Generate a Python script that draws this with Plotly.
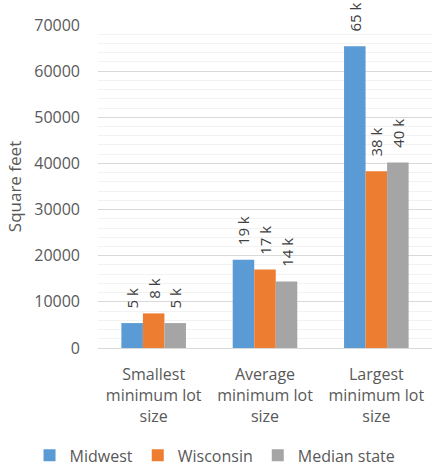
import plotly.graph_objects as go

categories = ["Smallest<br>minimum lot<br>size", "Average<br>minimum lot<br>size", "Largest<br>minimum lot<br>size"]
series_names = ["Midwest", "Wisconsin", "Median state"]
midwest = [5400, 19100, 65400]
wisconsin = [7500, 17000, 38300]
median_state = [5400, 14400, 40200]
series_colors = ["#5B9BD5", "#ED7D31", "#A5A5A5"]

FONT = "Open Sans"
PAD = "\u00a0\u00a0\u00a0"

fig = go.Figure()
for name, vals, col in zip(series_names, [midwest, wisconsin, median_state], series_colors):
    fig.add_trace(go.Bar(
        x=categories, y=vals, name=name,
        marker=dict(color=col, line=dict(width=0)),
        text=[f"{PAD}{int(v / 1000 + 0.5)} k" for v in vals],
        textposition="outside", textangle=-90, constraintext="none",
        textfont=dict(family=FONT, size=15, color="#404040"),
        cliponaxis=False,
    ))

fig.update_layout(
    width=432, height=468,
    margin=dict(l=98, r=0, t=25, b=120, autoexpand=False),
    paper_bgcolor="white", plot_bgcolor="white",
    barmode="group", bargap=0.42, bargroupgap=0,
    font=dict(family=FONT, size=16, color="#595959"),
    showlegend=True,
    legend=dict(orientation="h", x=-0.205, xanchor="left", y=-0.28, yanchor="top",
                font=dict(family=FONT, size=16, color="#595959"),
                itemwidth=30, traceorder="normal", bgcolor="rgba(0,0,0,0)",
                borderwidth=0),
)
fig.update_yaxes(
    range=[0, 70000], dtick=10000, tickformat="d",
    showgrid=True, gridcolor="#D9D9D9", gridwidth=1,
    minor=dict(dtick=2000, showgrid=True, gridcolor="#F2F2F2", gridwidth=1),
    zeroline=False, showline=False, automargin=False,
    ticklabelstandoff=17,
    tickfont=dict(family=FONT, size=16, color="#595959"),
    title=dict(text="Square feet", font=dict(family=FONT, size=17, color="#595959"), standoff=8),
)
fig.update_xaxes(
    showline=True, linecolor="#D9D9D9", linewidth=1, automargin=False,
    tickfont=dict(family=FONT, size=16, color="#595959"),
    ticklabelstandoff=12,
)
fig.write_html("out.html")
